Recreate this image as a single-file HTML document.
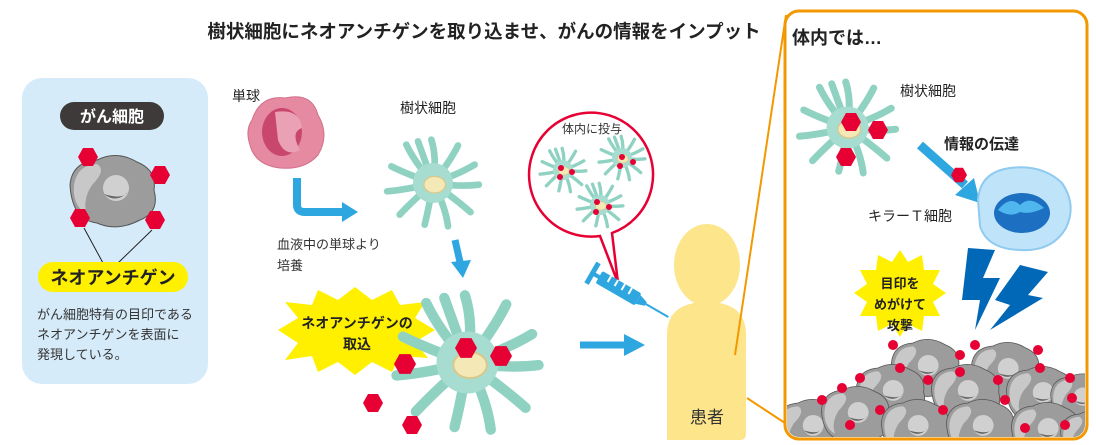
<!DOCTYPE html>
<html><head><meta charset="utf-8"><style>
html,body{margin:0;padding:0;background:#fff;}
svg{display:block;font-family:"Liberation Sans","Noto Sans CJK JP",sans-serif;}
</style></head><body>
<svg width="1096" height="445" viewBox="0 0 1096 445" xmlns="http://www.w3.org/2000/svg">
<defs>
<symbol id="dc" viewBox="-60 -60 120 120" overflow="visible">
 <g stroke="#8fd2c2" stroke-width="8" stroke-linecap="round" fill="none">
  <path d="M0 0 Q5 -30 -2 -52"/><path d="M0 0 Q20 -25 30 -45"/><path d="M0 0 Q30 -10 50 -22"/>
  <path d="M0 0 Q30 5 55 2"/><path d="M0 0 Q28 20 45 35"/><path d="M0 0 Q15 28 18 52"/>
  <path d="M0 0 Q-5 30 -10 50"/><path d="M0 0 Q-25 22 -40 38"/><path d="M0 0 Q-30 8 -55 10"/>
  <path d="M0 0 Q-30 -10 -50 -20"/><path d="M0 0 Q-22 -25 -32 -46"/><path d="M0 0 Q-10 -28 -18 -50"/>
 </g>
 <circle r="24" fill="#a6ddd0"/>
 <ellipse cx="2" cy="2" rx="13" ry="10" fill="#f3e8b6" stroke="#d9c88a" stroke-width="1.5"/>
</symbol>
<symbol id="cc" viewBox="-50 -40 100 80" overflow="visible">
 <path d="M-42 -5 Q-40 -28 -15 -30 Q5 -40 25 -28 Q45 -20 42 0 Q48 22 28 30 Q5 42 -15 33 Q-40 30 -42 -5Z" fill="#9c9c9c" stroke="#555" stroke-width="1"/>
 <path d="M-38 -5 Q-35 -25 -15 -26 Q-5 -20 -20 -5 Q-30 10 -25 25 Q-40 15 -38 -5Z" fill="#c8c8c8"/>
 <circle cx="4" cy="-2" r="13" fill="#d0d0d0"/><path d="M-8 4 Q4 14 16 2 Q10 10 -8 4Z" fill="#666"/>
</symbol>
<symbol id="hx" viewBox="-10 -10 20 20" overflow="visible">
 <polygon points="-5,-9 5,-9 10,0 5,9 -5,9 -10,0" fill="#e60033"/>
</symbol>
</defs>

<text x="484" y="38" text-anchor="middle" font-size="18.5" font-weight="bold" fill="#222">樹状細胞にネオアンチゲンを取り込ませ、がんの情報をインプット</text>

<rect x="22" y="78" width="186" height="306" rx="20" fill="#d6ebf9"/>
<rect x="60" y="102" width="104" height="28" rx="14" fill="#3e3a39"/>
<text x="112" y="122" text-anchor="middle" font-size="16" font-weight="bold" fill="#fff">がん細胞</text>
<use href="#cc" x="62" y="150" width="100" height="80"/>
<use href="#hx" x="78" y="147" width="20" height="20"/>
<use href="#hx" x="150" y="165" width="20" height="20"/>
<use href="#hx" x="70" y="208" width="20" height="20"/>
<use href="#hx" x="145" y="210" width="20" height="20"/>
<line x1="84" y1="228" x2="103" y2="263" stroke="#222" stroke-width="1"/>
<line x1="152" y1="230" x2="118" y2="263" stroke="#222" stroke-width="1"/>
<rect x="38" y="262" width="150" height="30" rx="15" fill="#fff000"/>
<text x="113" y="284" text-anchor="middle" font-size="18" font-weight="bold" fill="#222">ネオアンチゲン</text>
<g font-size="13" fill="#333"><text x="37" y="319">がん細胞特有の目印である</text><text x="37" y="339">ネオアンチゲンを表面に</text><text x="37" y="359">発現している。</text></g>

<text x="232" y="101" font-size="14" fill="#222">単球</text>
<path d="M252 120 Q260 95 285 98 Q312 92 318 115 Q330 135 318 155 Q305 170 280 168 Q255 165 250 145 Q245 130 252 120Z" fill="#e58aa0" stroke="#d2708a"/>
<ellipse cx="282" cy="132" rx="20" ry="24" fill="#c9476d"/>
<path d="M275 112 Q300 108 302 128 Q290 132 300 150 Q285 158 278 140Z" fill="#eaa0b5"/>
<path d="M297 178 V205 Q297 212 305 212 H343" stroke="#2ea7e0" stroke-width="8" fill="none"/>
<polygon points="342,202 358,212 342,222" fill="#2ea7e0"/>
<g font-size="13" fill="#333"><text x="277" y="249">血液中の単球より</text><text x="277" y="270">培養</text></g>

<text x="400" y="113" font-size="14" fill="#222">樹状細胞</text>
<use href="#dc" x="383" y="133" width="100" height="100"/>
<line x1="455" y1="240" x2="460" y2="262" stroke="#2ea7e0" stroke-width="7"/>
<polygon points="451,262 471,260 463,278" fill="#2ea7e0"/>

<polygon points="278,330 298,318 285,302 312,305 318,290 338,300 355,287 372,300 392,290 400,305 425,302 415,318 435,330 415,342 428,358 400,356 392,372 372,362 355,375 338,362 318,372 312,356 285,360 298,343" fill="#fff000"/>
<text x="357" y="328" text-anchor="middle" font-size="14" font-weight="bold" fill="#222">ネオアンチゲンの</text>
<text x="357" y="349" text-anchor="middle" font-size="14" font-weight="bold" fill="#222">取込</text>

<use href="#dc" x="390" y="285" width="155" height="155"/>
<use href="#hx" x="455" y="337" width="22" height="22"/>
<use href="#hx" x="490" y="345" width="22" height="22"/>
<use href="#hx" x="394" y="353" width="22" height="22"/>
<use href="#hx" x="363" y="393" width="20" height="20"/>
<use href="#hx" x="402" y="415" width="20" height="20"/>
<line x1="580" y1="345" x2="625" y2="345" stroke="#2ea7e0" stroke-width="7"/>
<polygon points="624,334 645,345 624,356" fill="#2ea7e0"/>

<path d="M612 233 A62 62 0 1 0 600 236 L618 283 Z" fill="#fff" stroke="#e60033" stroke-width="2.5"/>
<text x="562" y="133" font-size="12" fill="#333">体内に投与</text>
<use href="#dc" x="538" y="145" width="50" height="50"/>
<use href="#dc" x="597" y="133" width="50" height="50"/>
<use href="#dc" x="575" y="180" width="50" height="50"/>
<g fill="#e60033"><circle cx="561" cy="168" r="3"/><circle cx="572" cy="172" r="3"/><circle cx="560" cy="177" r="3"/>
<circle cx="622" cy="157" r="3"/><circle cx="633" cy="162" r="3"/><circle cx="620" cy="166" r="3"/>
<circle cx="597" cy="202" r="3"/><circle cx="609" cy="207" r="3"/><circle cx="596" cy="212" r="3"/></g>

<g transform="translate(625,292) rotate(30)">
<rect x="-30" y="-7" width="45" height="14" rx="2" fill="#2ea7e0"/>
<rect x="-40" y="-12" width="5" height="24" fill="#2ea7e0"/>
<rect x="-38" y="-2" width="10" height="4" fill="#2ea7e0"/>
<polygon points="15,-5 24,-2 24,2 15,5" fill="#2ea7e0"/>
<line x1="24" y1="0" x2="50" y2="0" stroke="#2ea7e0" stroke-width="2"/>
<g stroke="#fff" stroke-width="2"><line x1="-20" y1="-7" x2="-20" y2="0"/><line x1="-12" y1="-7" x2="-12" y2="0"/><line x1="-4" y1="-7" x2="-4" y2="0"/><line x1="4" y1="-7" x2="4" y2="0"/></g>
</g>

<ellipse cx="707" cy="265" rx="33" ry="41" fill="#fde58b"/>
<rect x="695" y="295" width="24" height="20" fill="#fde58b"/>
<path d="M667 440 V335 Q667 302 707 302 Q746 302 746 335 V434 Q746 440 740 440 Z" fill="#fde58b"/>
<text x="707" y="423" text-anchor="middle" font-size="17" fill="#333">患者</text>

<line x1="786" y1="15" x2="735" y2="355" stroke="#f39800" stroke-width="2"/>
<line x1="747" y1="398" x2="788" y2="425" stroke="#f39800" stroke-width="2"/>

<rect x="785" y="11" width="302" height="428" rx="14" fill="#fff" stroke="#f39800" stroke-width="3"/>
<text x="792" y="44" font-size="18" font-weight="bold" fill="#222">体内では…</text>
<use href="#dc" x="795" y="75" width="105" height="105"/>
<use href="#hx" x="841" y="112" width="20" height="20"/>
<use href="#hx" x="868" y="120" width="20" height="20"/>
<use href="#hx" x="836" y="147" width="20" height="20"/>
<text x="900" y="96" font-size="14" fill="#222">樹状細胞</text>
<text x="944" y="149" font-size="15" font-weight="bold" fill="#222">情報の伝達</text>
<line x1="920" y1="145" x2="965" y2="185" stroke="#2ea7e0" stroke-width="9"/>
<polygon points="955,195 980,203 974,178" fill="#2ea7e0"/>
<use href="#hx" x="951" y="167" width="16" height="16"/>
<path d="M978 200 Q980 172 1010 168 Q1042 164 1062 183 Q1077 205 1066 228 Q1052 252 1020 250 Q987 249 980 226Z" fill="#bfe3f8" stroke="#8fcaf0" stroke-width="2"/>
<ellipse cx="1022" cy="213" rx="28" ry="20" fill="#1d6fc2"/>
<path d="M998 210 Q1010 195 1020 205 Q1030 195 1044 208 Q1030 215 1020 212 Q1010 218 998 210Z" fill="#4fb6ee"/>
<text x="868" y="221" font-size="14" fill="#222">キラーＴ細胞</text>
<polygon points="968,248 995,250 983,278 1000,278 975,330 980,300 962,300" fill="#0068b7"/>
<polygon points="1020,265 1048,272 1028,295 1043,298 990,330 1010,305 995,300" fill="#0068b7"/>
<polygon points="900,250 908,262 922,255 924,270 940,270 933,284 946,293 933,302 940,316 924,316 922,331 908,324 900,337 892,324 878,331 876,316 860,316 867,302 854,293 867,284 860,270 876,270 878,255 892,262" fill="#fff000"/>
<g font-size="13" font-weight="bold" fill="#222" text-anchor="middle"><text x="900" y="288">目印を</text><text x="900" y="309">めがけて</text><text x="900" y="330">攻撃</text></g>
<clipPath id="bx"><rect x="787" y="13" width="298" height="424" rx="12"/></clipPath>
<g clip-path="url(#bx)">
<use href="#cc" x="885" y="335" width="80" height="64"/>
<use href="#cc" x="965" y="338" width="80" height="64"/>
<use href="#cc" x="850" y="360" width="80" height="64"/>
<use href="#cc" x="925" y="360" width="80" height="64"/>
<use href="#cc" x="1000" y="362" width="80" height="64"/>
<use href="#cc" x="1045" y="368" width="70" height="60"/>
<use href="#cc" x="770" y="395" width="80" height="64"/>
<use href="#cc" x="815" y="382" width="80" height="64"/>
<use href="#cc" x="875" y="395" width="80" height="64"/>
<use href="#cc" x="940" y="395" width="80" height="64"/>
<use href="#cc" x="1005" y="398" width="80" height="64"/>
<use href="#cc" x="1055" y="405" width="70" height="60"/>
<g fill="#e60033">
<circle cx="822" cy="400" r="5"/><circle cx="842" cy="388" r="5"/><circle cx="860" cy="378" r="5"/><circle cx="893" cy="345" r="5"/>
<circle cx="900" cy="368" r="5"/><circle cx="928" cy="380" r="5"/><circle cx="960" cy="355" r="5"/><circle cx="960" cy="372" r="5"/>
<circle cx="975" cy="345" r="5"/><circle cx="1038" cy="350" r="5"/><circle cx="1040" cy="368" r="5"/><circle cx="998" cy="380" r="5"/>
<circle cx="1005" cy="400" r="5"/><circle cx="1070" cy="378" r="5"/><circle cx="1072" cy="398" r="5"/><circle cx="880" cy="410" r="5"/>
<circle cx="943" cy="410" r="5"/><circle cx="1025" cy="428" r="5"/><circle cx="1065" cy="425" r="5"/><circle cx="850" cy="425" r="5"/>
</g>
</g>
</svg>
</body></html>
